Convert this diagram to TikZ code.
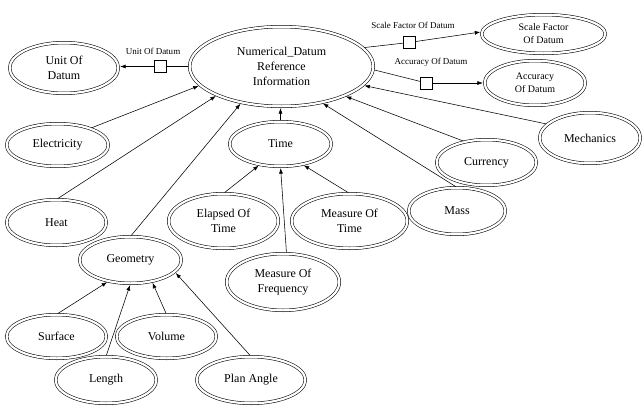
\documentclass[tikz,border=0pt]{standalone}
\usepackage{fontspec}
\setmainfont{Liberation Serif}
\usetikzlibrary{shapes.geometric,arrows.meta}
\tikzset{
  ell/.style={ellipse, draw, double, double distance=2.2pt, line width=0.55pt, inner sep=0pt, align=center, font=\fontsize{12}{15}\selectfont},
  ellsmall/.style={ell, font=\fontsize{10}{13}\selectfont},
  sq/.style={draw, fill=white, minimum size=12pt, inner sep=0pt, line width=0.55pt},
  lbl/.style={font=\fontsize{9}{11}\selectfont, inner sep=0pt},
  ln/.style={line width=0.55pt, shorten <=1.5pt},
  arr/.style={line width=0.55pt, -{Latex[length=5.5pt,width=4pt]}, shorten >=1.5pt, shorten <=1.5pt}
}
\begin{document}
\begin{tikzpicture}[x=1pt,y=-1pt]
\useasboundingbox[fill=white] (0,0) rectangle (644,407);
% nodes
\node[ell, minimum width=183.7pt, minimum height=79.7pt] (main) at (281.5,66.5) {Numerical\_Datum\\Reference\\Information};
\node[ell, minimum width=108.7pt, minimum height=50.7pt] (unit) at (64,68) {Unit Of\\Datum};
\node[ellsmall, minimum width=123.7pt, minimum height=38.7pt] (sf) at (543.5,34) {Scale Factor\\Of Datum};
\node[ellsmall, minimum width=100.7pt, minimum height=44.7pt] (acc) at (535,83) {Accuracy\\Of Datum};
\node[ell, minimum width=100.7pt, minimum height=50.7pt] (mech) at (590,138) {Mechanics};
\node[ell, minimum width=101.7pt, minimum height=42.7pt] (elec) at (57.5,145) {Electricity};
\node[ell, minimum width=99.7pt, minimum height=45.7pt] (heat) at (56.5,222.5) {Heat};
\node[ell, minimum width=101.7pt, minimum height=44.7pt] (time) at (280.5,144) {Time};
\node[ell, minimum width=109.7pt, minimum height=54.7pt] (elapsed) at (223.5,221) {Elapsed Of\\Time};
\node[ell, minimum width=115.7pt, minimum height=54.7pt] (meastime) at (349.5,221) {Measure Of\\Time};
\node[ell, minimum width=99.7pt, minimum height=45.7pt] (curr) at (486.5,162.5) {Currency};
\node[ell, minimum width=96.7pt, minimum height=46.7pt] (mass) at (457,211) {Mass};
\node[ell, minimum width=112.7pt, minimum height=56.7pt] (freq) at (283,282) {Measure Of\\Frequency};
\node[ell, minimum width=101.7pt, minimum height=46.7pt] (geom) at (130.5,260) {Geometry};
\node[ell, minimum width=99.7pt, minimum height=43.7pt] (surf) at (56.5,336.5) {Surface};
\node[ell, minimum width=99.7pt, minimum height=43.7pt] (vol) at (166.5,336.5) {Volume};
\node[ell, minimum width=100.7pt, minimum height=46.7pt] (len) at (106,380) {Length};
\node[ell, minimum width=108.7pt, minimum height=46.7pt] (plan) at (251,380) {Plan Angle};
% squares and labels
\node[sq] (sq1) at (160.5,66.5) {};
\node[sq] (sq2) at (409,42.5) {};
\node[sq] (sq3) at (426.5,83) {};
\node[lbl] (l1) at (153,51) {Unit Of Datum};
\node[lbl] (l2) at (413,25) {Scale Factor Of Datum};
\node[lbl] (l3) at (431,62) {Accuracy Of Datum};
% square connectors
\draw[ln] (main.west) -- (sq1.east);
\draw[arr, shorten <=0pt] (sq1.west) -- (sq1.west -| unit.east);
\draw[ln] (main.13.5) -- (sq2);
\draw[arr, shorten <=0pt] (sq2) -- (sf.178);
\draw[ln] (main.-2) -- (sq3);
\draw[arr, shorten <=0pt] (sq3) -- (acc);
% arrows to main
\draw[arr] (elec.27) -- (main.193);
\draw[arr] (heat.north) -- (main.204);
\draw[arr] (geom.north) -- (main.222);
\draw[arr] (time.north) -- (time.north |- main.south);
\draw[arr] (mass.north) -- (main.318.5);
\draw[arr] (curr.136) -- (main.335);
\draw[arr] (mech.162) -- (main.347);
% arrows to time
\draw[arr] (elapsed.north) -- (time.225);
\draw[arr] (freq.83) -- (time.south);
\draw[arr] (meastime.north) -- (time.317);
% arrows to geometry
\draw[arr] (surf.north) -- (geom.224);
\draw[arr] (len.north) -- (geom.south);
\draw[arr] (vol.north) -- (geom.315);
\draw[arr] (plan.north) -- (geom.345);
\end{tikzpicture}
\end{document}
